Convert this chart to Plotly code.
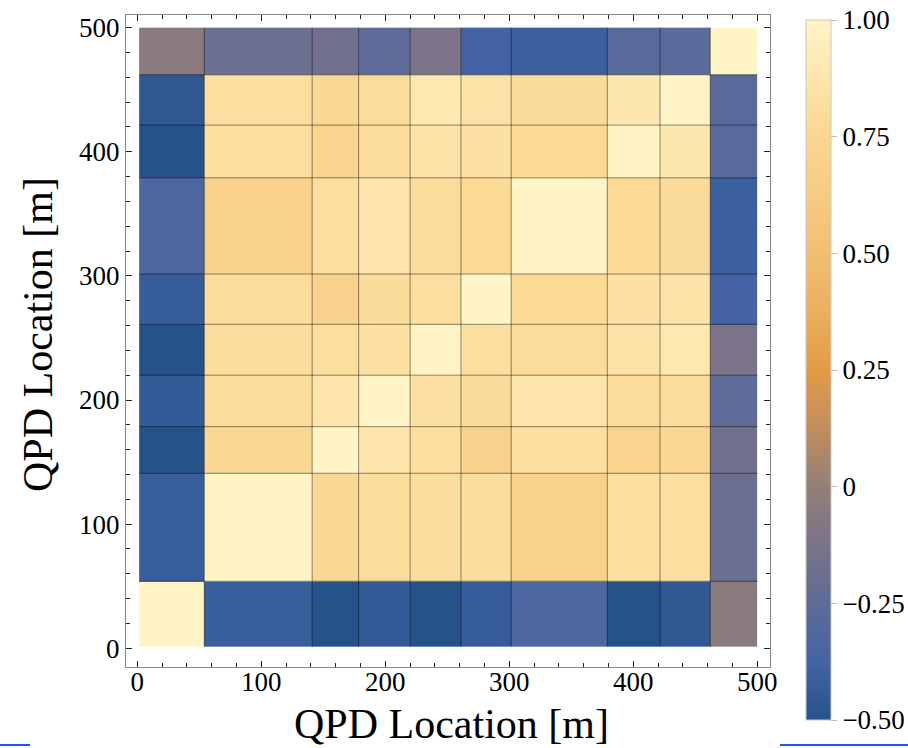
import plotly.graph_objects as go

# Cell edges of the QPD grid [m] (same along both axes)
edges = [1.5, 54, 141, 178.5, 220, 261, 301.5, 379, 421.5, 462, 500]

# Correlation matrix, rows from bottom (y bin 0) to top (y bin 9)
row0 = [1.00, -0.42, -0.50, -0.44, -0.50, -0.43, -0.32, -0.50, -0.46, -0.05]
row1 = [-0.42, 1.00, 0.77, 0.80, 0.81, 0.80, 0.70, 0.82, 0.82, -0.19]
row2 = [-0.50, 0.77, 1.00, 0.87, 0.82, 0.72, 0.82, 0.73, 0.77, -0.17]
row3 = [-0.44, 0.80, 0.87, 1.00, 0.83, 0.79, 0.87, 0.80, 0.80, -0.25]
row4 = [-0.50, 0.81, 0.82, 0.83, 1.00, 0.82, 0.80, 0.85, 0.90, -0.12]
row5 = [-0.43, 0.80, 0.72, 0.79, 0.82, 1.00, 0.78, 0.84, 0.85, -0.38]
row6 = [-0.32, 0.70, 0.82, 0.87, 0.80, 0.78, 1.00, 0.78, 0.79, -0.41]
row7 = [-0.50, 0.82, 0.73, 0.80, 0.85, 0.84, 0.78, 1.00, 0.89, -0.28]
row8 = [-0.46, 0.82, 0.77, 0.80, 0.90, 0.85, 0.79, 0.89, 1.00, -0.27]
row9 = [-0.05, -0.19, -0.17, -0.25, -0.12, -0.38, -0.41, -0.28, -0.27, 1.00]
z = [row0, row1, row2, row3, row4, row5, row6, row7, row8, row9]

axis_ticks = [0, 100, 200, 300, 400, 500]
cbar_vals = [1.0, 0.75, 0.5, 0.25, 0.0, -0.25, -0.5]
cbar_text = ["1.00", "0.75", "0.50", "0.25", "0", "\u22120.25", "\u22120.50"]

colorscale = [
    [0.0, "#26528a"], [0.0833, "#4464a6"], [0.1667, "#5e6b98"],
    [0.25, "#7a7388"], [0.3333, "#937f77"], [0.4167, "#c08e5c"],
    [0.5, "#e39b47"], [0.5833, "#ebaf5f"], [0.6667, "#f1bf72"],
    [0.75, "#f6cb82"], [0.8333, "#fad690"], [0.9167, "#fde5ab"],
    [1.0, "#fff4c6"],
]

FONT = "Liberation Serif"

fig = go.Figure()
fig.add_trace(go.Heatmap(
    x=edges, y=edges, z=z, zmin=-0.5, zmax=1.0,
    colorscale=colorscale, hoverinfo="skip",
    colorbar=dict(
        thickness=25, thicknessmode="pixels",
        len=700, lenmode="pixels",
        x=(806 - 126) / 644, xanchor="left", xpad=0,
        y=(667 - 20) / 652, yanchor="top", ypad=0,
        tickmode="array", tickvals=cbar_vals, ticktext=cbar_text,
        ticks="outside", ticklen=6, tickcolor="#bbbbbb",
        outlinewidth=1, outlinecolor="#c8c8c8",
        tickfont=dict(family=FONT, size=27, color="black"),
    ),
))

# mesh lines at interior cell edges
lx, ly = [], []
for e in edges[1:-1]:
    lx += [e, e, None]
    ly += [edges[0], edges[-1], None]
    lx += [edges[0], edges[-1], None]
    ly += [e, e, None]
fig.add_trace(go.Scatter(x=lx, y=ly, mode="lines",
                         line=dict(color="rgba(0,0,0,0.45)", width=1),
                         hoverinfo="skip", showlegend=False))

common = dict(
    showgrid=False, zeroline=False,
    showline=True, linecolor="#8a8a8a", linewidth=1, mirror="allticks",
    ticks="inside", ticklen=6, tickcolor="#222222", tickwidth=1,
    tickmode="array", tickvals=axis_ticks,
    minor=dict(ticks="inside", ticklen=4, tickcolor="#222222", dtick=20, tick0=0),
    tickfont=dict(family=FONT, size=27, color="black"),
)
fig.update_xaxes(range=[-9.1, 510.2], ticklabelstandoff=-9, **common)
fig.update_yaxes(range=[-15.1, 510.2], **common)

fig.add_annotation(text="QPD Location [m]", xref="paper", yref="paper",
                   x=(451 - 126) / 644, y=(667 - 724) / 652,
                   xanchor="center", yanchor="middle", showarrow=False,
                   font=dict(family=FONT, size=42, color="black"))
fig.add_annotation(text="QPD Location [m]", xref="paper", yref="paper",
                   x=(38 - 126) / 644, y=(667 - 335) / 652, textangle=-90,
                   xanchor="center", yanchor="middle", showarrow=False,
                   font=dict(family=FONT, size=42, color="black"))

# blue underline artifacts at the bottom edge
fig.add_shape(type="line", xref="paper", yref="paper",
              x0=(0 - 126) / 644, x1=(30 - 126) / 644,
              y0=(667 - 745) / 652, y1=(667 - 745) / 652,
              line=dict(color="#2050ff", width=2))
fig.add_shape(type="line", xref="paper", yref="paper",
              x0=(780 - 126) / 644, x1=(908 - 126) / 644,
              y0=(667 - 745) / 652, y1=(667 - 745) / 652,
              line=dict(color="#2050ff", width=2))

fig.update_layout(
    width=908, height=748, autosize=False,
    margin=dict(l=126, r=138, t=15, b=81, autoexpand=False),
    paper_bgcolor="white", plot_bgcolor="white",
    showlegend=False,
)

fig.write_html("out.html",
               config={"displayModeBar": False},
               post_script="document.body.style.margin='0px';"
                           "document.body.style.overflow='hidden';")
